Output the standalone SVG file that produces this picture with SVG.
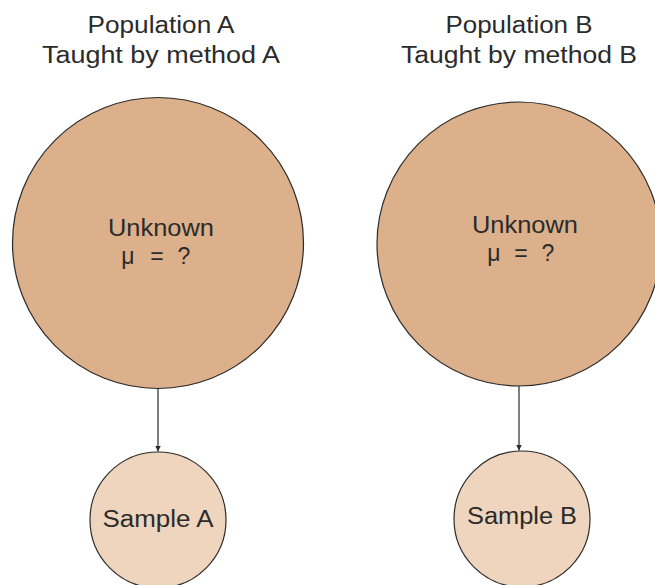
<svg xmlns="http://www.w3.org/2000/svg" width="655" height="585" viewBox="0 0 655 585">
<defs>
<style>
text{font-family:"Liberation Sans","DejaVu Sans",sans-serif;fill:#2b2b2b;text-anchor:middle;font-size:23px}
.big{fill:#DCB08A;stroke:#2b2b2b;stroke-width:1.2}
.small{fill:#EFD5BD;stroke:#2b2b2b;stroke-width:1.2}
.conn{stroke:#2b2b2b;stroke-width:1.2;fill:none}
</style>
<marker id="ah" viewBox="0 0 10 10" refX="10" refY="5" markerWidth="6" markerHeight="9" markerUnits="userSpaceOnUse" orient="auto"><path d="M0,0 L10,5 L0,10 z" fill="#2b2b2b"/></marker>
</defs>
<g id="titleA"><text x="161" y="33" textLength="147" lengthAdjust="spacingAndGlyphs">Population A</text><text x="161" y="63" textLength="238" lengthAdjust="spacingAndGlyphs">Taught by method A</text></g>
<g id="titleB"><text x="519" y="33" textLength="147" lengthAdjust="spacingAndGlyphs">Population B</text><text x="519" y="63" textLength="236" lengthAdjust="spacingAndGlyphs">Taught by method B</text></g>
<g id="popA"><circle class="big" cx="158" cy="243" r="145.5"/><text x="161" y="236" textLength="106" lengthAdjust="spacingAndGlyphs">Unknown</text><text y="264"><tspan x="128">μ</tspan><tspan x="157">=</tspan><tspan x="184">?</tspan></text></g>
<g id="popB"><circle class="big" cx="519" cy="244" r="142"/><text x="525" y="233" textLength="106" lengthAdjust="spacingAndGlyphs">Unknown</text><text y="261"><tspan x="494">μ</tspan><tspan x="521">=</tspan><tspan x="548">?</tspan></text></g>
<g id="sampleA"><circle class="small" cx="158" cy="520" r="68"/><text x="158" y="527" textLength="111" lengthAdjust="spacingAndGlyphs">Sample A</text></g>
<g id="sampleB"><circle class="small" cx="522" cy="519" r="68"/><text x="522" y="524" textLength="110" lengthAdjust="spacingAndGlyphs">Sample B</text></g>
<g id="connectors">
<line class="conn" x1="158" y1="388.5" x2="158" y2="451.5" marker-end="url(#ah)"/>
<line class="conn" x1="519" y1="386" x2="519" y2="450.5" marker-end="url(#ah)"/>
</g>
</svg>
